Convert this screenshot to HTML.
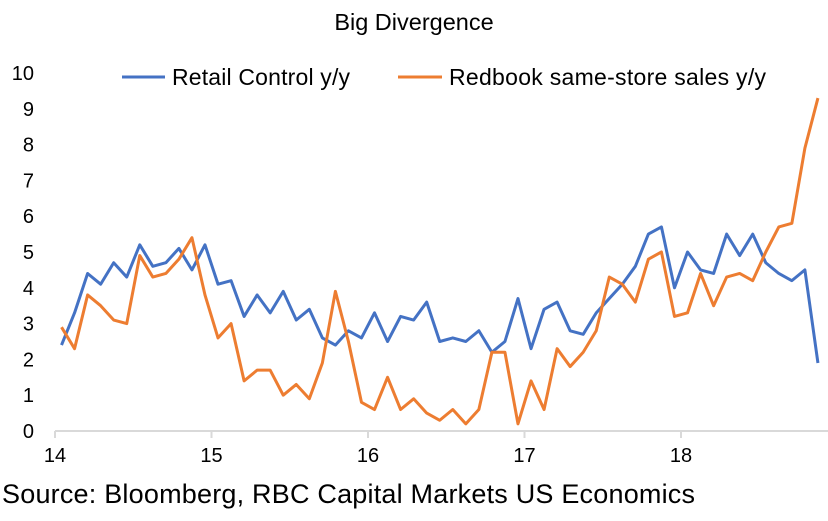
<!DOCTYPE html>
<html><head><meta charset="utf-8"><style>
body{margin:0;background:#fff;}
svg{display:block;font-family:"Liberation Sans",Arial,sans-serif;}
</style></head><body>
<svg id="c" width="828" height="521">
<text x="414" y="30" text-anchor="middle" font-size="23.5" fill="#000">Big Divergence</text>
<g id="axes"></g>
<g id="series"></g>
<g>
<line x1="122" y1="77" x2="165" y2="77" stroke="#4472C4" stroke-width="3"/>
<text x="172" y="85" font-size="23" textLength="178">Retail Control y/y</text>
<line x1="398" y1="77" x2="442" y2="77" stroke="#ED7D31" stroke-width="3"/>
<text x="449" y="85" font-size="23" textLength="317">Redbook same-store sales y/y</text>
</g>
<text x="2" y="503" font-size="27" textLength="693">Source: Bloomberg,  RBC Capital Markets US Economics</text>
</svg>
<script>
const yearLabels=["14","15","16","17","18"];
const yTicks=[0,1,2,3,4,5,6,7,8,9,10];
const retail=[2.4,3.3,4.4,4.1,4.7,4.3,5.2,4.6,4.7,5.1,4.5,5.2,4.1,4.2,3.2,3.8,3.3,3.9,3.1,3.4,2.6,2.4,2.8,2.6,3.3,2.5,3.2,3.1,3.6,2.5,2.6,2.5,2.8,2.2,2.5,3.7,2.3,3.4,3.6,2.8,2.7,3.3,3.7,4.1,4.6,5.5,5.7,4.0,5.0,4.5,4.4,5.5,4.9,5.5,4.7,4.4,4.2,4.5,1.9];
const redbook=[2.9,2.3,3.8,3.5,3.1,3.0,4.9,4.3,4.4,4.8,5.4,3.8,2.6,3.0,1.4,1.7,1.7,1.0,1.3,0.9,1.9,3.9,2.5,0.8,0.6,1.5,0.6,0.9,0.5,0.3,0.6,0.2,0.6,2.2,2.2,0.2,1.4,0.6,2.3,1.8,2.2,2.8,4.3,4.1,3.6,4.8,5.0,3.2,3.3,4.4,3.5,4.3,4.4,4.2,5.0,5.7,5.8,7.9,9.3];
const NS="http://www.w3.org/2000/svg";
const x0=55,yearW=156.5,yBase=431,yTop=73;
function xM(i){return x0+(i+0.5)*yearW/12;}
function xY(k){return x0+k*yearW;}
function yV(v){return yBase-(v/10)*(yBase-yTop);}
const axes=document.getElementById('axes');
function mk(tag,attrs,parent){const e=document.createElementNS(NS,tag);for(const k in attrs)e.setAttribute(k,attrs[k]);parent.appendChild(e);return e;}
const ax=mk('line',{x1:x0,x2:828,y1:yBase,y2:yBase,stroke:'#d9d9d9','stroke-width':2},axes);


yearLabels.forEach((l,k)=>{
  const t=mk('line',{x1:xY(k),x2:xY(k),y1:yBase,y2:yBase+7,stroke:'#d9d9d9','stroke-width':2},axes);
  
  
  const tx=mk('text',{x:xY(k),y:yBase+31,'text-anchor':'middle','font-size':20},axes);
  tx.textContent=l;
  
  
});
yTicks.forEach(v=>{
  const tx=mk('text',{x:34,y:yV(v)+7,'text-anchor':'end','font-size':20},axes);
  tx.textContent=v;
  
  
});
const ser=document.getElementById('series');
function line(data,color,name){
  const p=mk('polyline',{points:data.map((v,i)=>xM(i)+','+yV(v)).join(' '),fill:'none',stroke:color,'stroke-width':3,'stroke-linejoin':'round'},ser);
  
  
}
line(retail,'#4472C4','retail-control-line');
line(redbook,'#ED7D31','redbook-line');
</script>
</body></html>
